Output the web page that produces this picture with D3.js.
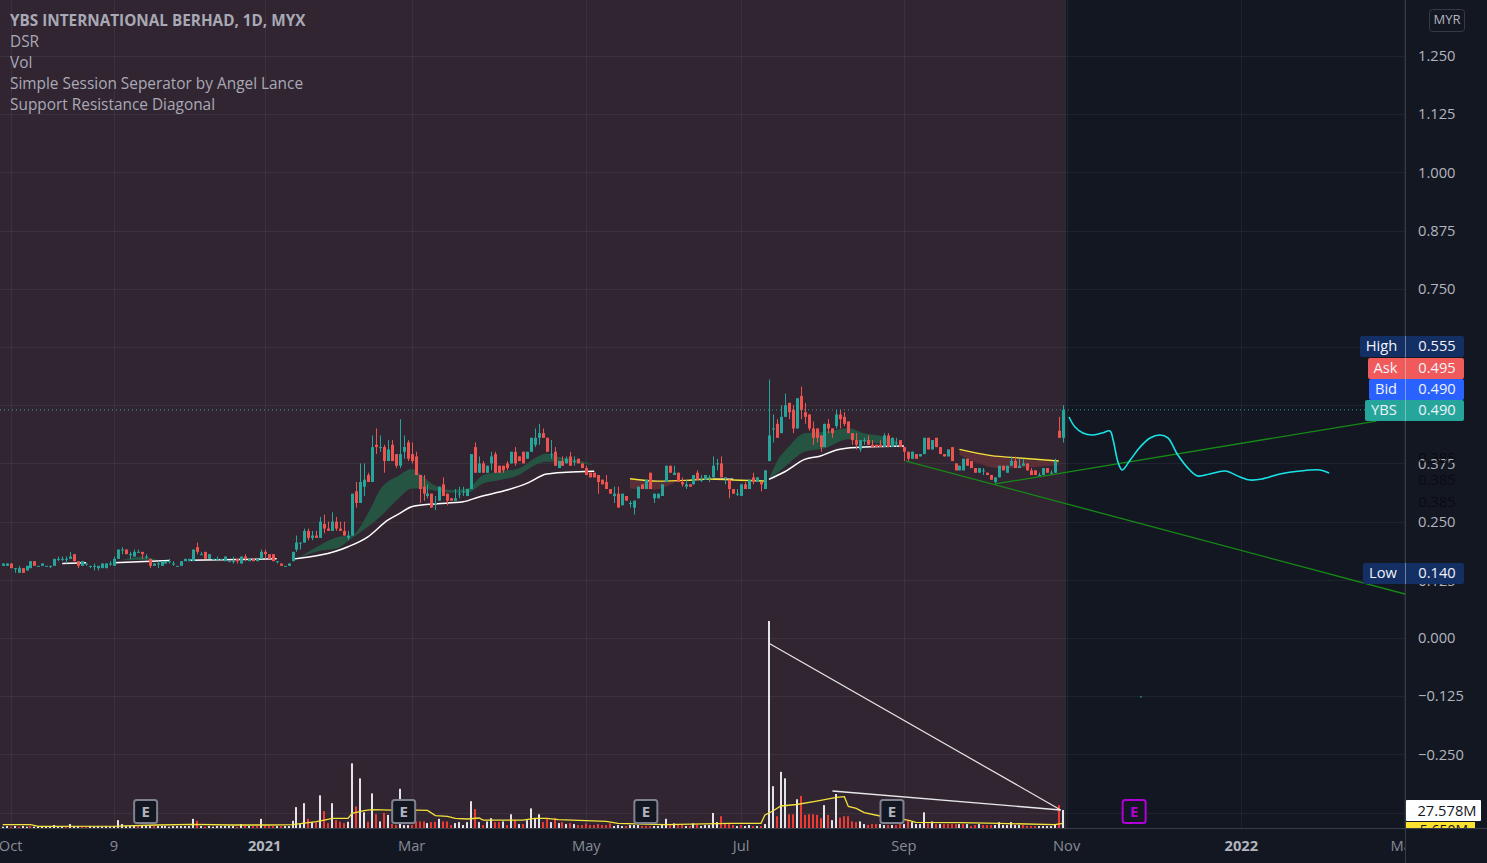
<!DOCTYPE html>
<html>
<head>
<meta charset="utf-8">
<script src="https://cdn.jsdelivr.net/npm/d3@7/dist/d3.min.js"></script>
<style>
html,body{margin:0;padding:0;background:#131722;overflow:hidden}
svg{display:block}
text{font-family:"Open Sans",sans-serif}
</style>
</head>
<body>
<svg id="c" width="1487" height="863"></svg>
<script>
const opens=[.155,.155,.16,.15,.14,.15,.145,.15,.165,.155,
.155,.155,.155,.155,.17,.17,.17,.17,.18,.165,
.155,.16,.155,.155,.15,.15,.15,.16,.155,.17,
.19,.19,.18,.175,.185,.185,.175,.17,.155,.16,
.155,.16,.165,.16,.155,.155,.165,.165,.165,.195,
.18,.185,.17,.17,.17,.17,.165,.165,.165,.17,
.16,.175,.165,.17,.165,.17,.185,.18,.18,.165,
.16,.155,.155,.165,.19,.205,.205,.23,.215,.22,
.215,.245,.235,.23,.25,.235,.23,.215,.22,.315,
.29,.325,.35,.335,.415,.41,.41,.38,.415,.395,
.37,.40,.42,.395,.39,.35,.325,.305,.31,.29,
.295,.33,.31,.30,.295,.31,.315,.305,.32,.41,
.355,.375,.355,.375,.395,.37,.37,.375,.375,.40,
.39,.40,.385,.40,.415,.43,.44,.43,.395,.40,
.365,.38,.375,.39,.38,.385,.375,.365,.355,.355,
.35,.34,.335,.32,.305,.31,.285,.305,.29,.28,
.30,.33,.32,.355,.30,.30,.305,.335,.37,.35,
.355,.335,.325,.33,.33,.355,.34,.34,.345,.345,
.375,.375,.345,.34,.32,.31,.305,.33,.32,.345,
.335,.335,.32,.38,.45,.46,.44,.475,.505,.49,
.45,.52,.485,.48,.45,.45,.435,.41,.46,.45,
.455,.48,.475,.465,.44,.425,.405,.425,.425,.415,
.415,.415,.41,.435,.41,.42,.425,.41,.40,.385,
.395,.39,.395,.43,.405,.43,.41,.395,.39,.41,
.375,.36,.36,.385,.38,.365,.355,.36,.355,.35,
.335,.345,.37,.355,.37,.38,.365,.37,.375,.36,
.36,.35,.35,.365,.355,.355,.445,.43];
const highs=[.16,.16,.16,.15,.155,.15,.155,.165,.165,.155,
.16,.155,.155,.17,.175,.175,.175,.185,.18,.165,
.165,.16,.155,.16,.155,.16,.16,.165,.175,.19,
.195,.19,.185,.19,.19,.185,.18,.17,.16,.165,
.165,.165,.17,.165,.155,.165,.17,.17,.19,.205,
.185,.185,.18,.17,.175,.17,.175,.165,.175,.17,
.175,.18,.17,.17,.17,.19,.19,.18,.18,.165,
.16,.155,.16,.185,.22,.205,.235,.235,.23,.23,
.26,.265,.25,.27,.26,.25,.25,.23,.31,.335,
.375,.375,.355,.435,.45,.435,.415,.425,.425,.395,
.47,.435,.425,.42,.40,.35,.35,.33,.31,.305,
.325,.345,.31,.30,.32,.325,.325,.32,.395,.42,
.39,.38,.37,.40,.40,.37,.37,.38,.40,.41,
.39,.40,.40,.43,.45,.46,.45,.43,.425,.41,
.38,.39,.39,.40,.39,.385,.375,.37,.355,.355,
.35,.34,.35,.32,.325,.325,.31,.305,.295,.295,
.325,.33,.34,.355,.31,.31,.33,.37,.37,.37,
.355,.345,.34,.33,.35,.36,.35,.35,.35,.39,
.385,.39,.345,.34,.32,.32,.33,.335,.34,.355,
.345,.335,.36,.555,.48,.47,.50,.525,.505,.50,
.515,.54,.505,.48,.465,.45,.435,.46,.47,.45,
.49,.49,.485,.465,.44,.44,.425,.43,.435,.425,
.415,.425,.44,.44,.43,.43,.425,.41,.40,.40,
.395,.395,.43,.43,.425,.43,.41,.395,.405,.41,
.375,.37,.385,.385,.38,.365,.365,.365,.355,.35,
.345,.37,.37,.37,.39,.39,.385,.385,.375,.365,
.36,.355,.365,.365,.36,.385,.475,.50];
const lows=[.155,.155,.15,.14,.14,.14,.145,.15,.155,.155,
.155,.155,.15,.155,.165,.165,.16,.17,.165,.15,
.155,.155,.15,.145,.145,.15,.15,.155,.155,.17,
.18,.18,.17,.175,.185,.17,.17,.15,.155,.15,
.155,.16,.16,.155,.155,.155,.165,.165,.165,.18,
.18,.17,.17,.17,.165,.17,.165,.165,.16,.16,
.16,.165,.165,.165,.165,.17,.17,.17,.165,.16,
.155,.155,.155,.165,.185,.19,.205,.21,.21,.215,
.215,.225,.23,.23,.23,.23,.22,.21,.22,.28,
.29,.305,.335,.335,.395,.40,.355,.38,.38,.365,
.365,.385,.38,.375,.35,.29,.295,.30,.28,.275,
.295,.305,.285,.295,.295,.30,.305,.305,.32,.355,
.355,.355,.355,.36,.355,.355,.355,.36,.375,.37,
.38,.375,.385,.40,.41,.415,.43,.40,.385,.37,
.365,.37,.375,.37,.37,.375,.365,.35,.345,.345,
.31,.33,.32,.31,.29,.28,.285,.295,.28,.265,
.30,.32,.32,.32,.29,.30,.305,.335,.355,.35,
.335,.325,.32,.325,.33,.34,.335,.34,.335,.345,
.36,.345,.33,.30,.31,.305,.305,.32,.32,.33,
.335,.315,.32,.38,.42,.43,.44,.475,.47,.44,
.45,.47,.46,.445,.415,.42,.40,.41,.44,.43,
.45,.45,.455,.44,.415,.405,.40,.415,.415,.41,
.41,.41,.41,.41,.41,.41,.41,.38,.38,.385,
.385,.39,.395,.405,.405,.41,.395,.39,.39,.38,
.36,.36,.36,.37,.365,.355,.355,.35,.35,.34,
.33,.345,.36,.355,.37,.365,.365,.37,.36,.35,
.35,.35,.35,.355,.35,.355,.43,.42];
const closes=[.16,.16,.15,.15,.15,.14,.155,.165,.155,.155,
.16,.155,.155,.17,.17,.17,.17,.175,.165,.155,
.165,.16,.155,.155,.155,.16,.16,.16,.17,.19,
.19,.18,.18,.185,.185,.18,.175,.155,.16,.16,
.165,.165,.165,.16,.155,.165,.17,.17,.19,.185,
.18,.17,.18,.17,.17,.17,.175,.165,.165,.165,
.175,.17,.17,.165,.17,.185,.18,.17,.165,.165,
.155,.155,.16,.185,.205,.205,.23,.215,.22,.215,
.25,.235,.23,.25,.235,.23,.22,.22,.31,.29,
.335,.34,.335,.41,.41,.41,.38,.405,.38,.37,
.395,.41,.385,.38,.35,.32,.31,.31,.28,.29,
.325,.305,.295,.295,.30,.31,.315,.32,.395,.355,
.375,.355,.37,.39,.355,.355,.36,.365,.40,.375,
.38,.375,.40,.43,.43,.44,.43,.40,.395,.37,
.38,.37,.385,.37,.38,.375,.365,.35,.345,.345,
.335,.33,.32,.31,.31,.28,.31,.295,.29,.295,
.325,.32,.34,.32,.31,.31,.33,.37,.355,.355,
.335,.33,.33,.325,.35,.34,.34,.35,.345,.37,
.375,.345,.345,.32,.31,.31,.33,.32,.34,.335,
.345,.33,.36,.435,.45,.43,.475,.50,.485,.45,
.515,.49,.475,.45,.43,.43,.41,.46,.45,.44,
.48,.47,.46,.44,.425,.415,.425,.425,.415,.41,
.41,.41,.435,.41,.43,.42,.41,.40,.385,.40,
.385,.395,.43,.405,.425,.41,.395,.39,.405,.38,
.36,.37,.385,.37,.365,.355,.365,.36,.35,.34,
.345,.37,.36,.37,.38,.365,.37,.375,.36,.35,
.35,.35,.365,.355,.355,.38,.43,.49];
const volumes=[2,3,2,3,2,3,2,3,2,2,
3,2,3,4.5,3,3,2,6,3,3,
2,2,3,2,3,2,3,2,3,12,
6,3,3,3,3,3,3,3,3,3,
3,3,2,3,3,3,3,3,14,11,
3,2,3,2,3,3,3,3,3,2,
6,4,3,3,3,14,4,3,3,3,
3,3,3,11,32,6,38,14,9,8.5,
50,26,7.5,38,12,9.5,7.5,9.5,99,33,
76,24,9.5,53,21,10,23,20,6,4.5,
60,4.5,4.5,4.5,10,10,10,7.5,9,9.5,
14,10,10,4.5,7.5,9,4.5,9,41,29,
9,4.5,10,15,9,9,10,4.5,21,12,
6,6,12,30,14,21,9,14,9,15,
7.5,9,6,7.5,6,4.5,4.5,7,4.5,4.5,
6,4.5,4.5,7,3,4.5,3,3,4.5,4.5,
4.5,3,3,3,3,3,4.5,14,6,7,
4.5,4.5,3,3,7,4.5,3,4.5,4.5,23,
9,18,6,6,4.5,3,4.5,3,4.5,3,
3,3,6,317,64,18,86,76,21,21,
44,49,20,21,21,20,15,35,20,12,
52,16,18,18,10,9,10,6,4.5,6,
6,6,4.5,4.5,4.5,4.5,6,6,11,9,
6,6,24,7,10,6,6,6,6,6,
6,6,6,6,3,4.5,6,4.5,4.5,4.5,
4.5,9,4.5,4.5,9,4.5,4.5,4.5,3,3,
3,3,3,3,3,6,35,27.578];
const volumeSide="wwrwrwwrww"+"wwwwwwrwww"+"rrwwwwwwww"+"wwwwrwwwrw"+"wwwwwwwwwr"+"wrwwwwwwwr"+"wrwrrwrrrw"+"rwwwwwwrwr"+"wrrwrrrwwr"+"wwrwrwrwrr"+
"wwwrrrrwrr"+"wrrrwwwwwr"+"wrwwrrwrwr"+"wrwwwwrrwr"+"wrwrwrrrrr"+"rrrrwwwrww"+"wrrrwwwwrw"+"rrwrwrwwww"+"wrrrrwrwwr"+"wrwwwrwwrr"+
"wrrrrrrwrw"+"wrrrrrwwrr"+"rwwrwrrwrw"+"wwwrwrwrrr"+"rwrwrrwrrr"+"wwwwwwwrrr"+"rwwwwwrw";

const volMaIdx=[0,7,9,29,39,48,58,67,73,77,79,81,83,87,88,91,93,98,104,107,109,112,114,117,120,121,125,131,134,137,140,152,155,167,183,191,192,194,196,200,205,210,212,213,215,217,221,228,230,241,251,265,267];
const volMaVal=[5.1,5.1,2.5,3,4.6,5.6,4.6,4.6,5.1,8.2,9.7,12.2,14.8,14.8,22.4,26.5,28,27.5,27.5,27,18.9,17.9,14.8,13.8,15.3,12.2,12.2,12.2,14.8,14.8,12.8,10.2,7.1,5.1,7.1,7.1,20,26,33.7,36,41.3,47,48,33,30,23.5,18.4,12.2,8.7,8.2,7.1,5.1,7.1];

const whiteIdx=[15,21,null,28,42,null,47,69,null,73,87,92,97,100,103,108,116,120,127,132,137,142,149,null,179,184,null,193,197,202,206,210,213,217,227];
const whiteVal=[.16,.1615,null,.1615,.1666,null,.167,.170,null,.1694,.196,.2174,.253,.2675,.282,.2876,.2926,.303,.3177,.332,.352,.356,.358,null,.341,.341,null,.3406,.357,.3837,.391,.4038,.408,.410,.4124];

const greenRibIdx=[30,35,39,null,74,80,84,88,92,95,100,103,105,108,113,117,121,125,130,134,137,140,145,149,null,193,195,198,202,207,213,217,222,225];
const greenRibUp=[.168,.1745,.168,null,.1695,.2,.216,.221,.2675,.3176,.35,.363,.3535,.332,.318,.321,.35,.357,.364,.386,.396,.389,.382,.3714,null,.3407,.3787,.411,.4396,.443,.4503,.4396,.4324,.4238];
const greenRibLo=[.168,.1675,.168,null,.1695,.1873,.192,.215,.239,.26,.302,.321,.321,.318,.312,.312,.332,.339,.350,.371,.3785,.3785,.376,.3714,null,.3407,.3536,.375,.400,.407,.4267,.4217,.4167,.4145];
const redRibIdx=[158,164,170,null,241,247,251,266];
const redRibUp=[.3406,.337,.337,null,.4038,.3966,.3894,.3787];
const redRibLo=[.321,.319,.337,null,.393,.3715,.3644,.3715];
const yellowIdx=[158,165,172,178,184,192,null,241,249,256,266];
const yellowVal=[.342,.337,.3385,.3415,.3394,.337,null,.405,.3916,.3866,.380];

const forecastIdx=[268.6,270.1,272.1,274.4,276.9,278.9,279.7,281,282,284,286.5,289,291.5,293.5,296,299,301,304,307.9,311.7,314.2,317.2,321.7,326.8,331.8,334.1];
const forecastVal=[.4747,.4532,.4403,.436,.4403,.4446,.4253,.3759,.3608,.3823,.4102,.4296,.436,.4296,.393,.3608,.348,.3522,.3587,.3458,.3393,.3415,.3522,.3587,.3608,.3544];

const trendDownIdx=[227.5,353.2], trendDownVal=[.380,.0945];
const trendUpIdx=[250,346], trendUpVal=[.3308,.466];
const volTrendAIdx=[193,266.5], volTrendAVal=[283,27.6];
const volTrendBIdx=[209,266.5], volTrendBVal=[56.7,27.6];

const lastPrice=.49, strayIdx=[286.7], strayVal=[-.1265];
const priceTicks=[1.25,1.125,1,.875,.75,.375,.25,0,-.125,-.25];
const ghostTicks=[.385,.385,.385];
const gridPrices=[1.25,1.125,1,.875,.75,.625,.5,.375,.25,.125,0,-.125,-.25,-.375];
const timeLabels=["Oct","9","2021","Mar","May","Jul","Sep","Nov","2022","Mar"];
const timeIdx=[2,28,66,103,147,186,227,268,312,353];
const boldLabels=["2021","2022"];
const earningsIdx=[36,101,162,224], futureEarningsIdx=[285];
const legendLines=["YBS INTERNATIONAL BERHAD, 1D, MYX","DSR","Vol","Simple Session Seperator by Angel Lance","Support Resistance Diagonal"];
const priceBadgeText=["High","Ask","Bid","YBS","Low"];
const priceBadgeVal=[.555,.495,.490,.490,.140];

const W=1487,H=863,paneR=1405,paneB=828,sessionEnd=1065.5;
const svg=d3.select("#c");
const x=d3.scaleLinear().domain([0,opens.length-1]).range([2.7,1062.7]);
const y=d3.scaleLinear().domain([0,1.25]).range([638,56]);
const yV=d3.scaleLinear().domain([0,317]).range([paneB,621]);
const fmt=d3.format(".3f");
const fmtP=v=>v<0?"\u2212"+fmt(-v):fmt(v);

svg.append("defs").append("clipPath").attr("id","pane").append("rect").attr("width",paneR).attr("height",paneB);
svg.append("defs").append("clipPath").attr("id","bottom").append("rect").attr("x",0).attr("y",paneB).attr("width",paneR).attr("height",H-paneB);
svg.append("rect").attr("width",W).attr("height",H).attr("fill","#131722");
svg.append("rect").attr("width",sessionEnd).attr("height",paneB).attr("fill","#312532");

const pane=svg.append("g").attr("clip-path","url(#pane)");
const grid="#ffffff";
pane.append("g").selectAll("line").data(gridPrices).join("line")
 .attr("x1",0).attr("x2",paneR).attr("y1",d=>Math.round(y(d))+.5).attr("y2",d=>Math.round(y(d))+.5)
 .attr("stroke",grid).attr("stroke-opacity",.055);
pane.append("g").selectAll("line").data(timeIdx).join("line")
 .attr("x1",d=>Math.round(x(d))+.5).attr("x2",d=>Math.round(x(d))+.5).attr("y1",0).attr("y2",paneB)
 .attr("stroke",grid).attr("stroke-opacity",.055);
pane.append("line").attr("x1",sessionEnd).attr("x2",sessionEnd).attr("y1",0).attr("y2",paneB).attr("stroke","#2a2e39");

const zip=(a,b,c)=>a.map((d,i)=>({i:d,a:b[i],b:c?c[i]:null}));
const area=d3.area().defined(d=>d.i!=null).x(d=>x(d.i)).y0(d=>y(d.b)).y1(d=>y(d.a)).curve(d3.curveMonotoneX);
const line=d3.line().defined(d=>d.i!=null).x(d=>x(d.i)).y(d=>y(d.a)).curve(d3.curveMonotoneX);
const vLine=d3.line().x(d=>x(d.i)).y(d=>yV(d.a));
const sLine=d3.line().x(d=>x(d.i)).y(d=>y(d.a));

pane.append("path").attr("d",area(zip(greenRibIdx,greenRibUp,greenRibLo))).attr("fill","#255443");
pane.append("path").attr("d",area(zip(redRibIdx,redRibUp,redRibLo))).attr("fill","#5b2f38");
pane.append("path").attr("d",line(zip(whiteIdx,whiteVal))).attr("fill","none").attr("stroke","#ffffff").attr("stroke-width",1.5);
pane.append("path").attr("d",line(zip(yellowIdx,yellowVal))).attr("fill","none").attr("stroke","#f3e03b").attr("stroke-width",1.4);

const vols=pane.append("g");
vols.selectAll("rect").data(volumes).join("rect")
 .attr("x",(d,i)=>Math.round(x(i))-1).attr("width",2)
 .attr("y",d=>yV(d)).attr("height",d=>paneB-yV(d))
 .attr("fill",(d,i)=>volumeSide[i]==="w"?"#e4e3e8":"#ee3a30");
pane.append("path").attr("d",d3.line().x(d=>x(d.i)).y(d=>yV(d.a))(zip(volMaIdx,volMaVal))).attr("fill","none").attr("stroke","#f3e23a").attr("stroke-width",1.3);
pane.append("path").attr("d",vLine(zip(volTrendAIdx,volTrendAVal))).attr("stroke","#e8e8ea").attr("fill","none").attr("stroke-width",1.2);
pane.append("path").attr("d",vLine(zip(volTrendBIdx,volTrendBVal))).attr("stroke","#e8e8ea").attr("fill","none").attr("stroke-width",1.4);

const candles=pane.append("g");
const col=i=>closes[i]>=opens[i]?"#26a69a":"#ef5350";
candles.selectAll("line").data(opens).join("line")
 .attr("x1",(d,i)=>Math.round(x(i))+.5).attr("x2",(d,i)=>Math.round(x(i))+.5)
 .attr("y1",(d,i)=>y(highs[i])).attr("y2",(d,i)=>y(lows[i]))
 .attr("stroke",(d,i)=>col(i)).attr("stroke-width",1);
candles.selectAll("rect").data(opens).join("rect")
 .attr("x",(d,i)=>Math.round(x(i))-1).attr("width",3)
 .attr("y",(d,i)=>y(Math.max(opens[i],closes[i])))
 .attr("height",(d,i)=>Math.max(1,Math.abs(y(opens[i])-y(closes[i]))))
 .attr("fill",(d,i)=>col(i));

pane.append("line").attr("x1",0).attr("x2",1366).attr("y1",y(lastPrice)).attr("y2",y(lastPrice))
 .attr("stroke","#26a69a").attr("stroke-dasharray","1 3");
pane.append("path").attr("d",sLine(zip(trendDownIdx,trendDownVal))).attr("stroke","#168a16").attr("fill","none").attr("stroke-width",1.3);
pane.append("path").attr("d",sLine(zip(trendUpIdx,trendUpVal))).attr("stroke","#168a16").attr("fill","none").attr("stroke-width",1.3);
pane.append("path").attr("d",d3.line().x(d=>x(d.i)).y(d=>y(d.a)).curve(d3.curveCatmullRom)(zip(forecastIdx,forecastVal))).attr("stroke","#18e4e8").attr("fill","none").attr("stroke-width",1.6);
pane.selectAll("circle.s").data(strayIdx).join("circle").attr("class","s").attr("cx",d=>x(d)).attr("cy",(d,i)=>y(strayVal[i])).attr("r",.8).attr("fill","#26a69a");

// earnings badges
function badge(list,stroke,txt){
 const g=svg.append("g").selectAll("g").data(list).join("g").attr("transform",d=>`translate(${x(d)},811.5)`);
 g.append("rect").attr("x",-11.5).attr("y",-11.5).attr("width",23).attr("height",23).attr("rx",2.5)
  .attr("fill","#131722").attr("stroke",stroke).attr("stroke-width",2);
 g.append("text").attr("text-anchor","middle").attr("y",5.5).attr("font-size",15).attr("font-weight",700).attr("fill",txt).text("E");
}
badge(earningsIdx,"#7f828e","#b2b5be");
badge(futureEarningsIdx,"#b000d8","#b000d8");

// legend
svg.append("g").selectAll("text").data(legendLines).join("text")
 .attr("x",10).attr("y",(d,i)=>26+i*21)
 .attr("font-size",(d,i)=>i===0?15.3:15.4).attr("font-weight",(d,i)=>i===0?700:400)
 .attr("fill","#a9a9b5").text(d=>d);

// price axis
svg.append("line").attr("x1",paneR+.5).attr("x2",paneR+.5).attr("y1",0).attr("y2",H).attr("stroke","#363a45");
svg.append("line").attr("x1",0).attr("x2",W).attr("y1",paneB+.5).attr("y2",paneB+.5).attr("stroke","#363a45");
const axisG=svg.append("g").attr("transform",`translate(${paneR},0)`)
 .call(d3.axisRight(y).tickValues(priceTicks).tickSize(0).tickPadding(13).tickFormat(fmtP));
axisG.select(".domain").remove();
axisG.selectAll("text").attr("font-size",14.7).attr("fill","#b2b5be").attr("font-family",'"Open Sans",sans-serif');

// ghost tick labels
svg.append("g").selectAll("text").data(ghostTicks).join("text")
 .attr("x",1437).attr("text-anchor","middle").attr("y",(d,i)=>[463,485,507][i]).attr("font-size",14.7).attr("fill","#0a0c12").text(d=>fmt(d));
svg.append("text").attr("x",1437).attr("text-anchor","middle").attr("y",586).attr("font-size",14.7).attr("fill","#b2b5be").text(fmt(.125));

// time axis
const timeG=svg.append("g").attr("clip-path","url(#bottom)");
timeG.selectAll("text").data(timeLabels).join("text")
 .attr("x",(d,i)=>x(timeIdx[i])).attr("y",851).attr("text-anchor","middle").attr("font-size",14.7)
 .attr("font-weight",d=>boldLabels.includes(d)?700:400)
 .attr("fill",d=>boldLabels.includes(d)?"#b2b5be":"#878a95").text(d=>d);

// price badges
const bLeft=[1360,1368,1369,1365,1363];
const bFill=["#132f63","#f05a5a","#2962ff","#26a69a","#132f63"];
const bg=svg.append("g").selectAll("g").data(priceBadgeText).join("g");
const bTop=[336,358,379,400,563];
bg.append("rect").attr("x",(d,i)=>bLeft[i]).attr("y",(d,i)=>bTop[i]).attr("width",(d,i)=>paneR-bLeft[i]+59).attr("height",21).attr("rx",2).attr("fill",(d,i)=>bFill[i]);
bg.append("line").attr("x1",paneR+.5).attr("x2",paneR+.5).attr("y1",(d,i)=>bTop[i]).attr("y2",(d,i)=>bTop[i]+21).attr("stroke","#d1d4dc").attr("stroke-opacity",.5);
bg.append("text").attr("x",(d,i)=>(bLeft[i]+paneR)/2-1).attr("y",(d,i)=>bTop[i]+15).attr("text-anchor","middle").attr("font-size",14.7).attr("fill","#f0f3fa").text(d=>d);
bg.append("text").attr("x",1437).attr("y",(d,i)=>bTop[i]+15).attr("text-anchor","middle").attr("font-size",14.7).attr("fill","#f0f3fa").text((d,i)=>fmt(priceBadgeVal[i]));

// volume labels
svg.append("defs").append("clipPath").attr("id","yl").append("rect").attr("x",paneR).attr("y",820).attr("width",80).attr("height",8);
svg.append("rect").attr("x",paneR+1).attr("y",822).attr("width",69).attr("height",6).attr("fill","#fbe02e");
svg.append("text").attr("clip-path","url(#yl)").attr("x",1444).attr("y",835).attr("text-anchor","middle").attr("font-size",14).attr("fill","#131722").text("5.650M");
svg.append("rect").attr("x",paneR+1).attr("y",800).attr("width",75).attr("height",21).attr("rx",1).attr("fill","#ffffff");
svg.append("text").attr("x",1447).attr("y",815.5).attr("text-anchor","middle").attr("font-size",14.7).attr("fill","#131722").text(fmt(volumes[volumes.length-1])+"M");

// currency
svg.append("rect").attr("x",1429.5).attr("y",9.5).attr("width",35).attr("height",22).attr("rx",3).attr("fill","none").attr("stroke","#363a45");
svg.append("text").attr("x",1447).attr("y",24).attr("text-anchor","middle").attr("font-size",13).attr("fill","#b2b5be").text("MYR");
</script>
</body>
</html>
